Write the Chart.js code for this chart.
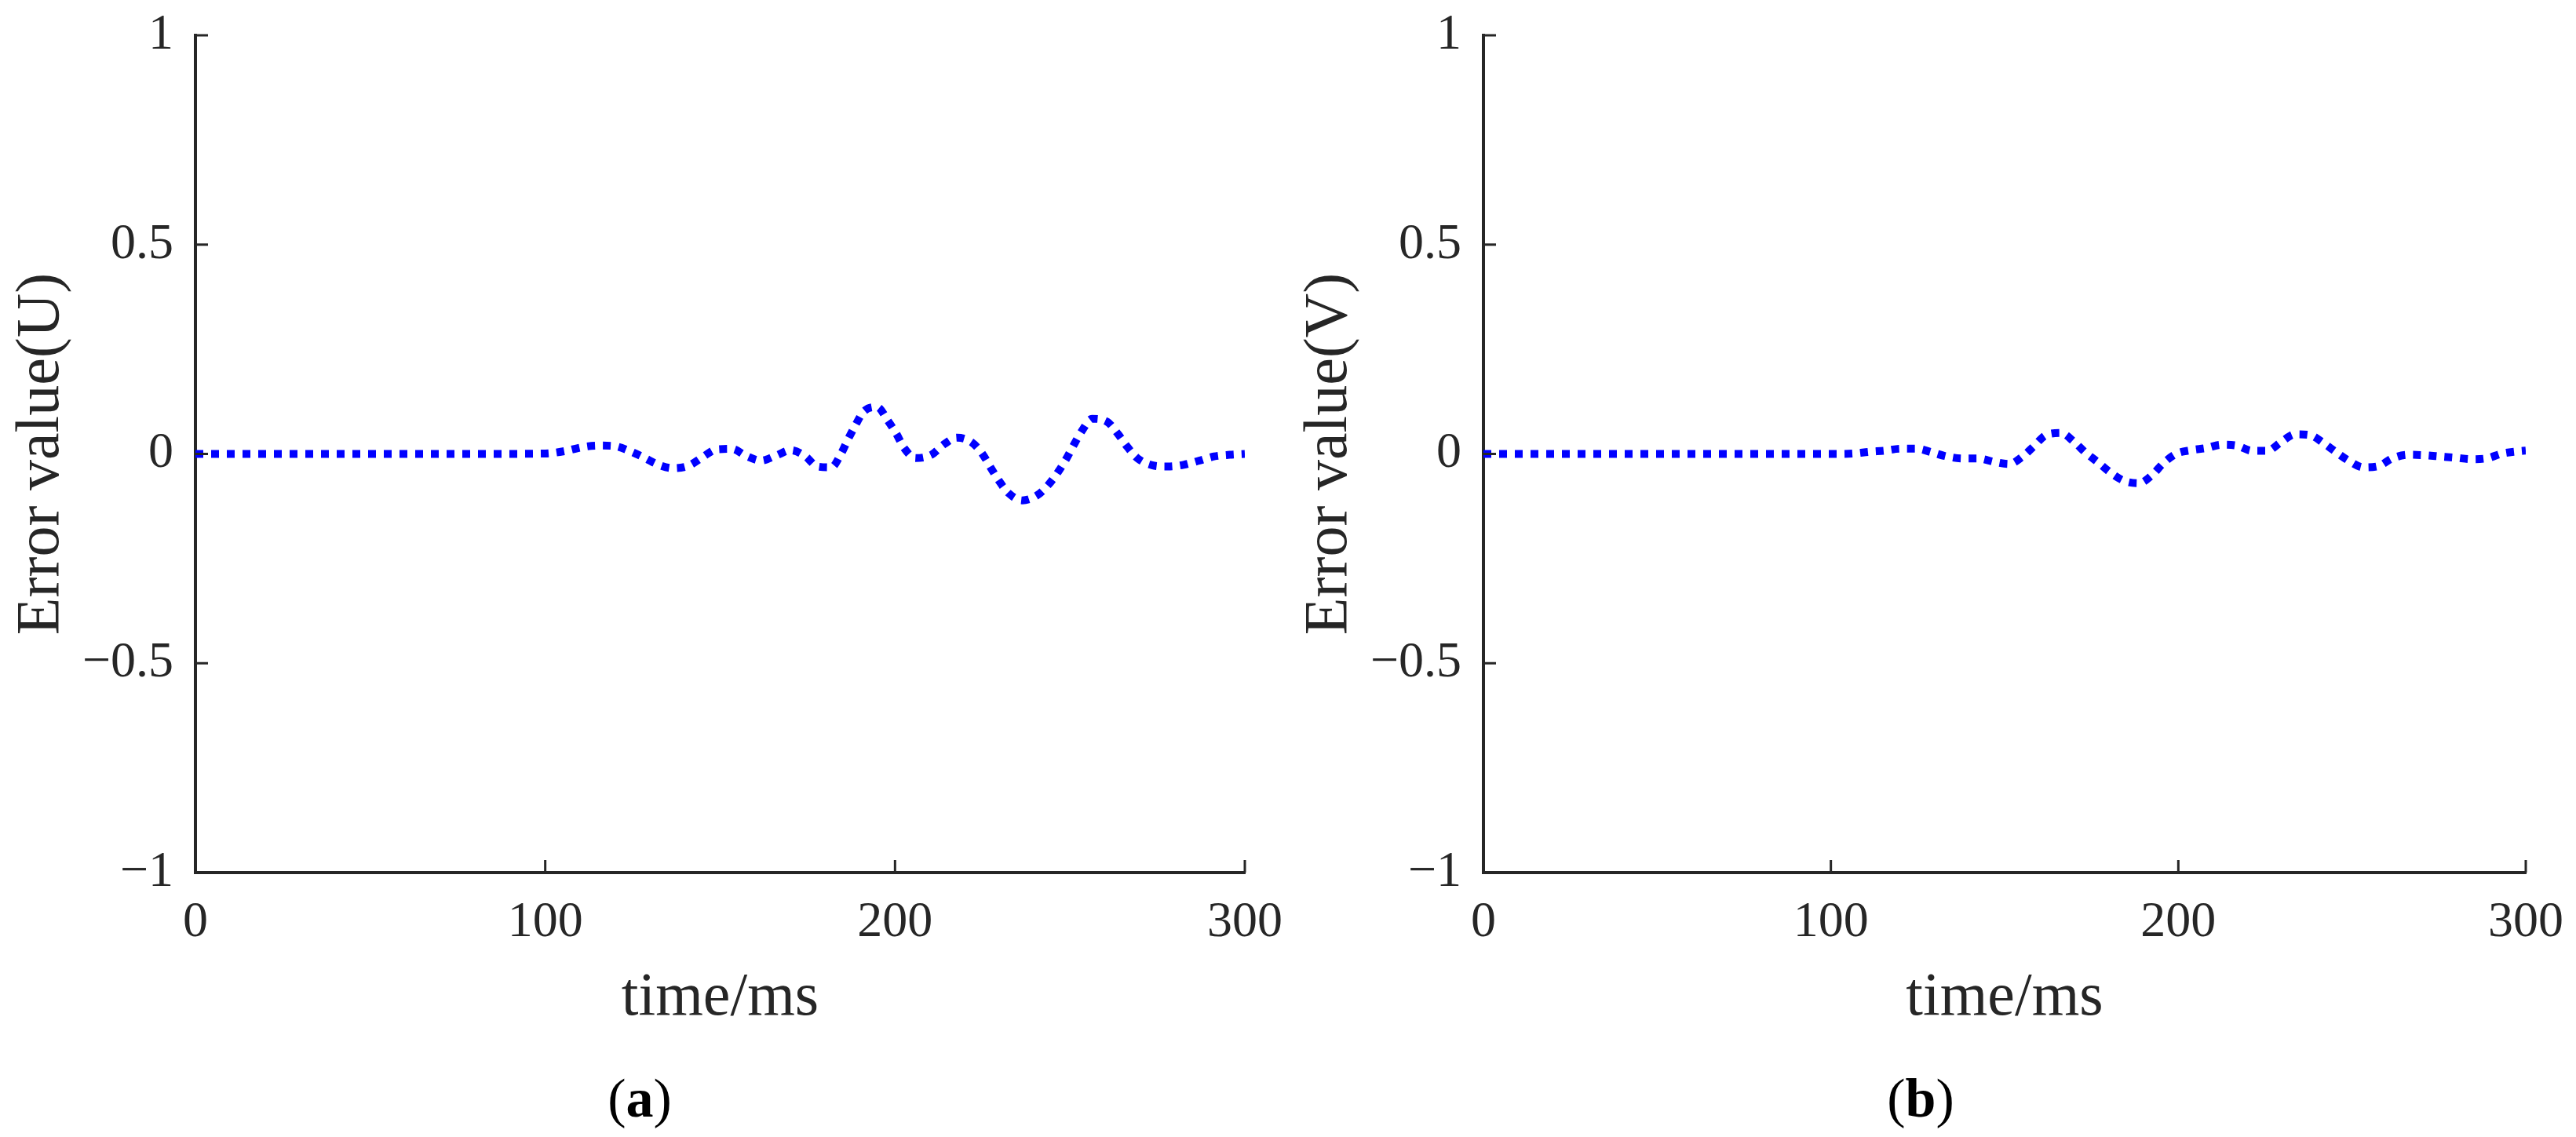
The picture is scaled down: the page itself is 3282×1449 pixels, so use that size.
<!DOCTYPE html>
<html>
<head>
<meta charset="utf-8">
<script src="https://cdn.jsdelivr.net/npm/chart.js@4.4.1/dist/chart.umd.min.js"></script>
<style>
  html, body { margin: 0; padding: 0; background: #fff; }
  #page { position: relative; width: 3282px; height: 1449px; overflow: hidden; }
  .panel { position: absolute; top: 0; width: 1641px; height: 1449px; }
  .tag { position: absolute; top: 1400px; transform: translate(-50%, -50%);
         font-family: 'Liberation Serif', serif; font-size: 70px; line-height: 1; color: #000; }
</style>
</head>
<body>
<div id="page">
  <div class="panel" style="left:0"><canvas id="chartU"></canvas></div>
  <div class="panel" style="left:1641px"><canvas id="chartV"></canvas></div>
  <div class="tag" style="left:815px">(<b>a</b>)</div>
  <div class="tag" style="left:2447px">(<b>b</b>)</div>
</div>
<script>
// Error curves (time in ms)
var timeU = [0, 20, 40, 60, 80, 100, 106, 110.5, 115, 119.5, 124, 128.3, 132.4, 136.5, 141, 145, 149, 153.4,
  157.5, 161.7, 166, 170.2, 174.3, 177.8, 181.8, 184.6, 186.5, 188.7, 191, 194.9, 197.9, 200.4, 202.6, 205.9,
  210.4, 214, 217.7, 221.9, 224.9, 227.3, 229.7, 232.5, 236.4, 240.6, 243.8, 246.7, 249, 251.2, 253.5, 256.3,
  260.6, 263.8, 266.4, 269.4, 273.5, 278, 282.5, 287, 291.2, 295.7, 300];
var errU = [0, 0, 0, 0, 0, 0.001, 0.0075, 0.016, 0.020, 0.019, 0.0075, -0.009, -0.026, -0.034, -0.028, -0.0075, 0.011, 0.012,
  -0.005, -0.016, -0.004, 0.009, -0.005, -0.030, -0.032, 0.001, 0.034, 0.069, 0.101, 0.112, 0.080, 0.048, 0.014, -0.010,
  -0.002, 0.023, 0.039, 0.028, 0.001, -0.032, -0.064, -0.094, -0.111, -0.099, -0.074, -0.042, -0.011, 0.023, 0.056, 0.084,
  0.077, 0.047, 0.017, -0.011, -0.027, -0.030, -0.026, -0.016, -0.006, -0.002, 0];

var timeV = [0, 20, 40, 60, 80, 102, 106.5, 111, 115.6, 120.1, 124.7, 129, 133.4, 137.9, 142.5, 147, 151.3, 155.2,
  158.5, 161.9, 166.2, 170.1, 173.3, 176.9, 180.4, 184.3, 188.6, 192.5, 195.6, 199.3, 203.8, 208, 212.5, 216.7,
  221.3, 225.6, 229.5, 233.6, 237.9, 241.8, 245.3, 249.2, 253.3, 257.6, 261.5, 266.3, 270.8, 275.4, 279.9, 284.4,
  289, 293.2, 297.5, 300];
var errV = [0, 0, 0, 0, 0, 0, 0.001, 0.005, 0.008, 0.0125, 0.0125, 0.004, -0.006, -0.011, -0.011, -0.019, -0.024, -0.006,
  0.019, 0.045, 0.050, 0.028, 0.003, -0.020, -0.044, -0.064, -0.070, -0.050, -0.023, 0, 0.009, 0.014, 0.022, 0.020,
  0.0075, 0.0075, 0.028, 0.047, 0.045, 0.026, 0.005, -0.017, -0.032, -0.029, -0.011, -0.002, -0.003, -0.006, -0.009, -0.0125,
  -0.010, 0.001, 0.006, 0.008];

var xTicks = [0, 100, 200, 300];
var yTicks = [-1, -0.5, 0, 0.5, 1];

var AXIS_COLOR = '#262626';
var LINE_COLOR = '#0000ff';
var SERIF = "'Liberation Serif', 'Times New Roman', serif";
var TICK_LEN = 16;

// MATLAB style: ticks point into the plot
var inwardTicks = {
  id: 'inwardTicks',
  afterDraw: function (chart) {
    var ctx = chart.ctx, a = chart.chartArea;
    var xs = chart.scales.x, ys = chart.scales.y;
    ctx.save();
    ctx.strokeStyle = AXIS_COLOR;
    ctx.lineWidth = 3;
    ctx.beginPath();
    xs.ticks.forEach(function (t) {
      var px = xs.getPixelForValue(t.value);
      ctx.moveTo(px, a.bottom);
      ctx.lineTo(px, a.bottom - TICK_LEN);
    });
    ys.ticks.forEach(function (t) {
      var py = ys.getPixelForValue(t.value);
      ctx.moveTo(a.left, py);
      ctx.lineTo(a.left + TICK_LEN, py);
    });
    ctx.stroke();
    ctx.restore();
  }
};

function fmtTick(v) {
  return v < 0 ? '\u2212' + String(-v) : String(v);
}

function toPoints(xs, ys) {
  return xs.map(function (x, i) { return { x: x, y: ys[i] }; });
}

function makeErrorChart(canvasId, times, values, yTitle, rightPad) {
  var ctx = document.getElementById(canvasId);
  return new Chart(ctx, {
    type: 'line',
    data: {
      datasets: [{
        data: toPoints(times, values),
        borderColor: LINE_COLOR,
        borderWidth: 10,
        borderDash: [10, 10],
        borderCapStyle: 'butt',
        pointRadius: 0,
        fill: false,
        cubicInterpolationMode: 'monotone'
      }]
    },
    options: {
      responsive: true,
      maintainAspectRatio: false,
      animation: false,
      devicePixelRatio: 1,
      layout: { padding: { top: 45, right: rightPad, bottom: 0, left: 0 } },
      plugins: { legend: { display: false }, tooltip: { enabled: false } },
      scales: {
        x: {
          type: 'linear',
          min: 0, max: 300,
          afterBuildTicks: function (s) { s.ticks = xTicks.map(function (v) { return { value: v }; }); },
          afterFit: function (s) { s.height = 337; s.paddingLeft = 0; s.paddingRight = 0; },
          grid: { display: false, drawTicks: false },
          border: { display: true, color: AXIS_COLOR, width: 4 },
          ticks: { color: AXIS_COLOR, padding: 26, maxRotation: 0, font: { family: SERIF, size: 64 }, callback: fmtTick },
          title: { display: true, text: 'time/ms', color: AXIS_COLOR, font: { family: SERIF, size: 78 }, padding: { top: 0, bottom: 130 } }
        },
        y: {
          min: -1, max: 1,
          afterBuildTicks: function (s) { s.ticks = yTicks.map(function (v) { return { value: v }; }); },
          afterFit: function (s) { s.width = 249; s.paddingTop = 0; s.paddingBottom = 0; },
          grid: { display: false, drawTicks: false },
          border: { display: true, color: AXIS_COLOR, width: 4 },
          ticks: { color: AXIS_COLOR, padding: 28, font: { family: SERIF, size: 64 }, callback: fmtTick },
          title: { display: true, text: yTitle, color: AXIS_COLOR, font: { family: SERIF, size: 78 }, padding: { top: 7, bottom: 0 } }
        }
      }
    },
    plugins: [inwardTicks]
  });
}

makeErrorChart('chartU', timeU, errU, 'Error value(U)', 55);
makeErrorChart('chartV', timeV, errV, 'Error value(V)', 64);
</script>
</body>
</html>
